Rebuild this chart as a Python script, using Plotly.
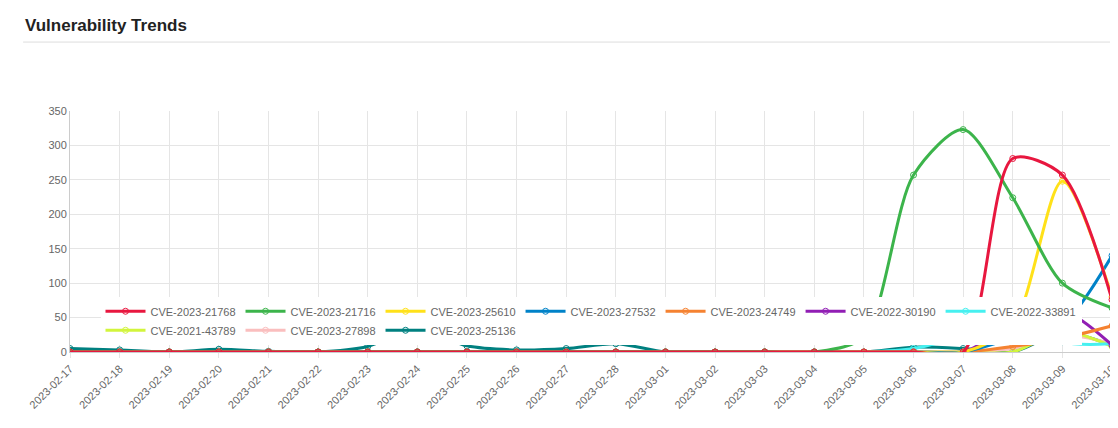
import plotly.graph_objects as go

dates = ["2023-02-17", "2023-02-18", "2023-02-19", "2023-02-20", "2023-02-21", "2023-02-22",
         "2023-02-23", "2023-02-24", "2023-02-25", "2023-02-26", "2023-02-27", "2023-02-28",
         "2023-03-01", "2023-03-02", "2023-03-03", "2023-03-04", "2023-03-05", "2023-03-06",
         "2023-03-07", "2023-03-08", "2023-03-09", "2023-03-10"]

z16 = [0] * 19
cve_2023_21768 = z16 + [281, 257, 76]
cve_2023_21716 = [0] * 16 + [22, 257, 323, 224, 100, 64]
cve_2023_25610 = z16 + [38, 248, 80]
cve_2023_27532 = z16 + [20, 40, 140]
cve_2023_24749 = z16 + [8, 20, 38]
cve_2022_30190 = z16 + [38, 60, 10]
cve_2022_33891 = [0] * 17 + [5, 25, 64, 15, 12]
cve_2021_43789 = z16 + [0, 30, 8]
cve_2023_27898 = z16 + [5, 25, 12]
cve_2023_25136 = [5, 3, 0, 4, 1, 0, 8, 34, 9, 3, 5, 12, 0, 0, 0, 0, 0, 7, 5, 0, 28, 10]

series = [
    ("CVE-2023-21768", cve_2023_21768, "#e8173f"),
    ("CVE-2023-21716", cve_2023_21716, "#3cb44b"),
    ("CVE-2023-25610", cve_2023_25610, "#ffe119"),
    ("CVE-2023-27532", cve_2023_27532, "#0082c8"),
    ("CVE-2023-24749", cve_2023_24749, "#f58231"),
    ("CVE-2022-30190", cve_2022_30190, "#911eb4"),
    ("CVE-2022-33891", cve_2022_33891, "#46f0f0"),
    ("CVE-2021-43789", cve_2021_43789, "#d2f53c"),
    ("CVE-2023-27898", cve_2023_27898, "#fabebe"),
    ("CVE-2023-25136", cve_2023_25136, "#008080"),
]

fig = go.Figure()
# draw in reverse so the first series sits on top
for name, vals, color in reversed(series):
    fig.add_trace(go.Scatter(
        x=dates, y=vals, name=name, mode="lines+markers",
        line=dict(color=color, width=3, shape="spline", smoothing=0.8),
        marker=dict(symbol="circle-open", size=6, color=color, line=dict(width=1)),
    ))

fig.update_layout(
    width=1118, height=428,
    paper_bgcolor="white", plot_bgcolor="white",
    font=dict(family="Liberation Sans, Arial", size=11, color="#666"),
    margin=dict(l=62, r=14, t=103, b=84, autoexpand=False),
    legend=dict(orientation="h", x=0.5, xanchor="center", y=0.03, yanchor="bottom",
                traceorder="reversed", font=dict(size=11, color="#666"),
                itemwidth=40),
    annotations=[dict(text="<b>Vulnerability Trends</b>", xref="paper", yref="paper",
                      x=-0.045, y=1.353, xanchor="left", yanchor="middle", showarrow=False,
                      font=dict(size=17, color="#222"))],
    shapes=[dict(type="line", xref="paper", yref="paper", x0=-0.045, x1=1.0,
                 y0=1.286, y1=1.286, line=dict(color="#ddd", width=1))],
)
fig.update_xaxes(type="category", range=[0, 21], tickangle=-45, showgrid=True,
                 gridcolor="#e5e5e5", automargin=False,
                 showline=True, linecolor="#ccc", ticks="outside", tickcolor="#e5e5e5",
                 tickfont=dict(size=11, color="#666"))
fig.update_yaxes(range=[0, 350], dtick=50, showgrid=True, gridcolor="#e5e5e5",
                 zeroline=False, showline=True, linecolor="#ccc", automargin=False,
                 tickfont=dict(size=11, color="#666"))

fig.write_html("out.html")
